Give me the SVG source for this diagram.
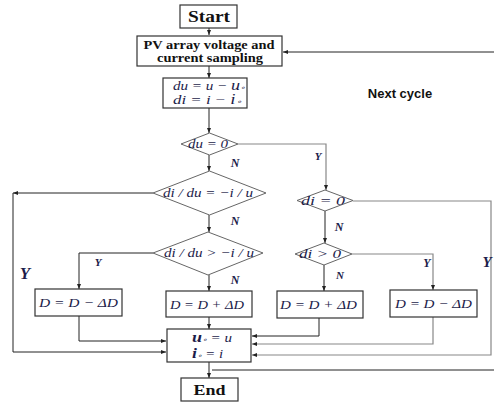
<svg xmlns="http://www.w3.org/2000/svg" width="494" height="404" viewBox="0 0 494 404">
<defs>
<marker id="ah" viewBox="0 0 10 10" refX="10" refY="5" markerWidth="5" markerHeight="5" markerUnits="userSpaceOnUse" orient="auto"><path d="M0 1 L10 5 L0 9 Z" fill="#222"/></marker>
<style>
.box{fill:#fff;stroke:#333;stroke-width:1.2}
.dia{fill:#fff;stroke:#666;stroke-width:1}
.ln{fill:none;stroke:#222;stroke-width:1}
.lg{fill:none;stroke:#888;stroke-width:1.2}
.b{font-family:"Liberation Serif",serif;font-weight:bold;fill:#111;text-anchor:middle}
.m{font-family:"Liberation Serif",serif;font-style:italic;fill:#1c1c4a;font-size:13px;text-anchor:middle}
.ms{font-family:"Liberation Serif",serif;font-style:italic;fill:#1c1c4a;font-size:12.5px;text-anchor:start}
.lb{font-family:"Liberation Serif",serif;font-style:italic;font-weight:bold;fill:#1c1c4a;text-anchor:middle}
.s{font-family:"Liberation Sans",sans-serif;font-weight:bold;fill:#111;font-size:13px;text-anchor:middle}
</style>
</defs>
<rect width="494" height="404" fill="#fff"/>
<g id="connectors">
<path class="ln" d="M209 28 V35" marker-end="url(#ah)"/>
<path class="ln" d="M494 52 H283" marker-end="url(#ah)"/>
<path class="ln" d="M209 66 V78" marker-end="url(#ah)"/>
<path class="ln" d="M209 108 V133" marker-end="url(#ah)"/>
<path class="ln" d="M209 155 V171" marker-end="url(#ah)"/>
<path class="lg" d="M238 144 H326 V190" marker-end="url(#ah)"/>
<path class="ln" d="M153 193 H13" marker-end="url(#ah)"/>
<path class="ln" d="M13 193 V352 H166" marker-end="url(#ah)"/>
<path class="ln" d="M209 215 V232" marker-end="url(#ah)"/>
<path class="ln" d="M153 253 H79 V289" marker-end="url(#ah)"/>
<path class="ln" d="M209 275 V291" marker-end="url(#ah)"/>
<path class="ln" d="M79 316 V341 H166" marker-end="url(#ah)"/>
<path class="ln" d="M209 317 V329" marker-end="url(#ah)"/>
<path class="ln" d="M325 211 V243" marker-end="url(#ah)"/>
<path class="lg" d="M353 201 H491 V355 H252" marker-end="url(#ah)"/>
<path class="lg" d="M352 254 H433 V290" marker-end="url(#ah)"/>
<path class="ln" d="M324 265 V291" marker-end="url(#ah)"/>
<path class="ln" d="M319 318 V336 H252" marker-end="url(#ah)"/>
<path class="lg" d="M433 317 V344 H252" marker-end="url(#ah)"/>
<path class="ln" d="M209 362 V378" marker-end="url(#ah)"/>
<path class="ln" d="M212 370 H494"/>
</g>
<g id="start"><rect class="box" x="180" y="5" width="57" height="23"/><text class="b" x="209" y="21.5" font-size="16" textLength="42" lengthAdjust="spacingAndGlyphs">Start</text></g>
<g id="sampling"><rect class="box" x="137" y="36" width="145" height="30"/><text class="b" x="209" y="49" font-size="12.5" textLength="131" lengthAdjust="spacingAndGlyphs">PV array voltage and</text><text class="b" x="210" y="62" font-size="12.5" textLength="106" lengthAdjust="spacingAndGlyphs">current sampling</text></g>
<g id="diff"><rect class="box" x="163" y="78" width="84" height="30"/><text class="ms" x="173" y="89.5" textLength="72" lengthAdjust="spacingAndGlyphs">du = u − <tspan font-size="15">u</tspan><tspan font-size="7">∘</tspan></text><text class="ms" x="173" y="104" textLength="68" lengthAdjust="spacingAndGlyphs">di = i − <tspan font-size="14">i</tspan><tspan font-size="7">∘</tspan></text></g>
<g id="next-cycle"><text class="s" x="400" y="98">Next cycle</text></g>
<g id="du0"><polygon class="dia" points="181,144 209.5,133 238,144 209.5,155"/><text class="m" x="208" y="148" textLength="40" lengthAdjust="spacingAndGlyphs">du = 0</text></g>
<g id="cond1"><polygon class="dia" points="153,193 209.5,171 266,193 209.5,215"/><text class="m" x="208" y="197" textLength="90" lengthAdjust="spacingAndGlyphs">di / du = −i / u</text></g>
<g id="cond2"><polygon class="dia" points="153,253 208,232 263,253 208,275"/><text class="m" x="209" y="257" textLength="90" lengthAdjust="spacingAndGlyphs">di / du &gt; −i / u</text></g>
<g id="di0"><polygon class="dia" points="297,200.5 325,190 353,200.5 325,211"/><text class="m" x="323" y="205" textLength="44" lengthAdjust="spacingAndGlyphs">di = 0</text></g>
<g id="dipos"><polygon class="dia" points="295,254 324,243 352,254 324,265"/><text class="m" x="320" y="258" textLength="42" lengthAdjust="spacingAndGlyphs">di &gt; 0</text></g>
<g id="dec-left"><rect class="box" x="35" y="289" width="87" height="27"/><text class="m" x="78.5" y="307" font-size="14" textLength="79" lengthAdjust="spacingAndGlyphs">D = D − ΔD</text></g>
<g id="inc-mid"><rect class="box" x="166" y="291" width="86" height="26"/><text class="m" x="207" y="308.5" font-size="14" textLength="74" lengthAdjust="spacingAndGlyphs">D = D + ΔD</text></g>
<g id="inc-right"><rect class="box" x="277" y="291" width="86" height="27"/><text class="m" x="318.5" y="309" font-size="14" textLength="77" lengthAdjust="spacingAndGlyphs">D = D + ΔD</text></g>
<g id="dec-right"><rect class="box" x="390" y="290" width="87" height="27"/><text class="m" x="433.5" y="308" font-size="14" textLength="77" lengthAdjust="spacingAndGlyphs">D = D − ΔD</text></g>
<g id="update"><rect class="box" x="167" y="329" width="84" height="33"/><text class="ms" x="192" y="342" textLength="40" lengthAdjust="spacingAndGlyphs"><tspan font-size="15" font-weight="bold">u</tspan><tspan font-size="7">∘</tspan> = u</text><text class="ms" x="192" y="358" textLength="31" lengthAdjust="spacingAndGlyphs"><tspan font-size="15" font-weight="bold">i</tspan><tspan font-size="7">∘</tspan> = i</text></g>
<g id="end"><rect class="box" x="181" y="378" width="57" height="23"/><text class="b" x="209.5" y="395" font-size="15" textLength="32" lengthAdjust="spacingAndGlyphs">End</text></g>
<g id="labels">
<text class="lb" x="318" y="160" font-size="11">Y</text>
<text class="lb" x="235" y="167" font-size="12">N</text>
<text class="lb" x="235" y="225" font-size="12">N</text>
<text class="lb" x="235" y="284" font-size="12">N</text>
<text class="lb" x="98" y="266" font-size="11">Y</text>
<text class="lb" x="25" y="279" font-size="17">Y</text>
<text class="lb" x="339" y="231" font-size="12">N</text>
<text class="lb" x="340" y="279" font-size="11">N</text>
<text class="lb" x="427" y="267" font-size="12">Y</text>
<text class="lb" x="487" y="267" font-size="15">Y</text>
</g>
</svg>
